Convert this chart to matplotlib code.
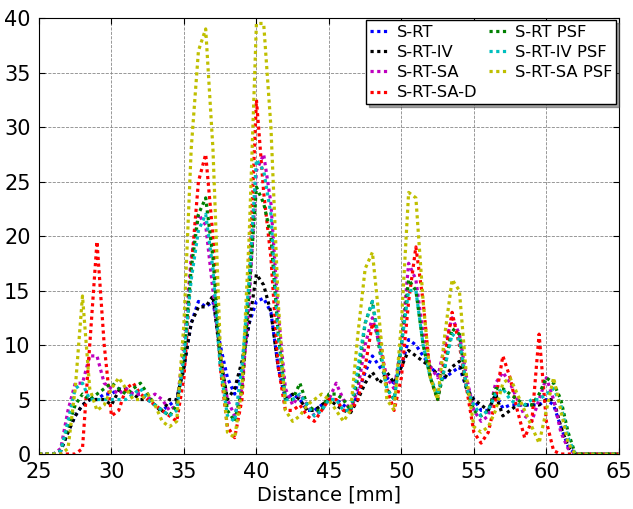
import matplotlib
matplotlib.use("Agg")
import matplotlib.pyplot as plt
import numpy as np

# distance grid [mm], 0.5 mm steps from 25 to 65
distance = np.arange(25.0, 65.01, 0.5)

# profiles (81 values each)
s_rt = [0, 0,
        0, 0.3, 2, 3.5, 4.5, 5, 5, 5.5, 5.5, 6, 5.8, 5.5, 5.5, 5, 4.5, 4, 4.5, 5,
        8, 12, 14, 13.5, 14, 10, 7, 5.5, 8, 12, 14, 14.3, 13, 8,
        5, 5.5, 5, 4, 4, 4.5, 5, 5, 4.5, 4, 5.5, 7.5, 9, 8, 7, 6.5,
        8, 10.5, 10, 9, 8, 7.3, 7, 7.5, 8, 6, 5, 4, 4, 5.5, 4.2, 4.5,
        4.5, 4.5, 4.5, 4.5, 5, 4.5, 2.5, 0.7, 0, 0, 0, 0, 0, 0, 0]
s_rt_iv = [0, 0,
           0, 0.3, 2, 3.5, 4.5, 5, 5, 5, 4.5, 5.8, 6, 5.5, 5, 5, 4.5, 3.8, 5, 5,
           8, 12, 13.5, 13.5, 14.5, 9, 5, 6, 8.5, 12, 16.5, 15.5, 13, 8,
           5, 5.5, 5, 4, 4, 4.5, 5, 4.5, 4, 3.8, 5, 6.5, 7.5, 6.5, 7.5, 6.5,
           8, 9.5, 9, 8.5, 8, 7.3, 7, 8, 8.5, 6, 5, 4.5, 4, 5.5, 3.5, 4,
           4.5, 4.5, 4.5, 4.5, 5, 5, 2.5, 0.7, 0, 0, 0, 0, 0, 0, 0]
s_rt_sa = [0, 0,
           0, 0.5, 4, 6.5, 6.5, 9, 9, 6.5, 6, 5.5, 6, 5.5, 5.5, 5, 5.5, 5, 4, 4.5,
           10, 18, 22, 21, 15, 9, 5, 3.5, 6, 14, 26, 27.5, 23, 13,
           6, 4.5, 5.5, 4.5, 3.5, 4, 5, 6.5, 5, 4, 6, 10, 12.5, 10, 7, 6,
           10, 17.5, 16, 11, 8, 7, 10, 12.5, 11, 7, 4, 3, 3.5, 6.5, 7.5, 6.5,
           5, 3.5, 3, 5, 7, 5, 2, 0.5, 0, 0, 0, 0, 0, 0, 0]
s_rt_sa_d = [0, 0,
             0, 0, 0, 0, 0.5, 10, 19.5, 10, 3.5, 4, 6, 6.5, 5.5, 5, 4.5, 4, 3.5, 3,
             7, 17, 25, 27.5, 20, 8, 2.5, 1.5, 5, 16, 32.5, 24, 18, 8,
             4, 4, 4.5, 3.5, 3, 4, 5, 5, 4, 4, 5, 8, 12, 11, 6, 4,
             7, 14, 19, 14, 7, 5, 9, 13, 10, 6, 2, 1, 2, 5, 9, 7,
             4, 1.5, 3, 11, 3, 0.3, 0, 0, 0, 0, 0, 0, 0, 0, 0]
s_rt_psf = [0, 0,
            0, 0.3, 2.5, 4.5, 5.5, 5, 5.5, 6, 6.5, 6, 5.5, 6, 6.5, 5.5, 4.5, 4, 3.5, 4.5,
            9, 17, 22, 23.5, 18, 9, 4, 3, 6, 15, 24.5, 23, 20, 11,
            5, 5, 6.5, 4.5, 4, 4, 5.5, 5.5, 5, 4, 7, 12, 14, 9.5, 6, 5,
            10, 16, 15, 10, 7, 5, 8, 11.5, 11, 6, 4, 3.5, 4, 6, 6, 5.5,
            5, 4.5, 4.5, 5.5, 7, 6.5, 5, 2, 0, 0, 0, 0, 0, 0, 0]
s_rt_iv_psf = [0, 0,
               0, 0.3, 3, 6, 6.5, 5, 5, 5, 5, 5, 5, 5.5, 6, 5, 4.5, 4, 3.5, 4,
               9, 16, 20.5, 22, 17, 8, 3.5, 3, 8, 16, 27, 26, 22, 11,
               5, 5, 5.5, 4.5, 3.5, 4, 5, 5, 4, 4, 8, 12, 14, 10, 6, 5,
               10, 15, 15, 10, 7, 5.5, 8, 11, 10.5, 6, 4.5, 3.5, 4, 5.5, 6, 5,
               4.5, 4.5, 5, 5, 5.5, 6, 4.5, 1.5, 0, 0, 0, 0, 0, 0, 0]
s_rt_sa_psf = [0, 0,
               0, 0, 0.5, 6, 14.5, 6, 4, 4.5, 6, 7, 6, 5, 5, 5.5, 4.5, 3, 2.5, 3,
               12, 28, 37, 39, 28, 10, 2, 1.5, 6, 20, 39.5, 39.5, 30, 14,
               4, 3, 3.5, 4.5, 5, 5.5, 5, 4, 3, 4, 11, 17, 18.5, 12, 5, 4,
               12, 24, 23.5, 14, 7, 5, 11, 16, 15, 7, 2.5, 2, 2.5, 4, 6.5, 7,
               5.5, 4, 2.5, 1, 4, 7, 4, 1, 0, 0, 0, 0, 0, 0, 0]

labels = ["S-RT", "S-RT-IV", "S-RT-SA", "S-RT-SA-D",
          "S-RT PSF", "S-RT-IV PSF", "S-RT-SA PSF"]
series = [s_rt, s_rt_iv, s_rt_sa, s_rt_sa_d, s_rt_psf, s_rt_iv_psf, s_rt_sa_psf]
colours = ["#0000ff", "#000000", "#bf00bf", "#ff0000", "#008000", "#00bfbf", "#bfbf00"]

fig = plt.figure(figsize=(6.33, 5.09), dpi=100)
ax = fig.add_axes([0.0616, 0.108, 0.916, 0.8566])

for vals, lab, col in zip(series, labels, colours):
    ax.plot(distance, vals, color=col, lw=2.3, linestyle=(0, (1, 1.1)),
            dash_capstyle="butt", label=lab)

ax.set_xlim(25, 65)
ax.set_ylim(0, 40)
ax.set_xticks(np.arange(25, 66, 5))
ax.set_yticks(np.arange(0, 41, 5))
ax.tick_params(direction="in", top=True, right=True, labelsize=15, length=4, pad=6)
ax.grid(True, color="#888888", linestyle="--", linewidth=0.6)
ax.set_xlabel("Distance [mm]", fontsize=14, labelpad=2)

leg = ax.legend(ncol=2, loc="upper right", fontsize=11.8, shadow=True, fancybox=False,
                borderaxespad=0.15, handlelength=1.2, handletextpad=0.4,
                labelspacing=0.32, columnspacing=0.7, borderpad=0.25)
leg.get_frame().set_edgecolor("black")

fig.savefig("out.png", dpi=100)
